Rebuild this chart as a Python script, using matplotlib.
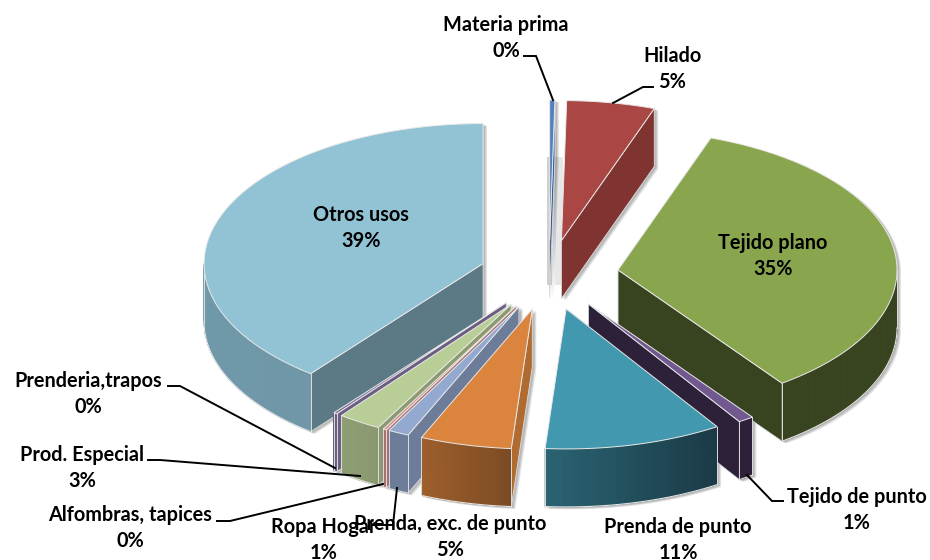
import numpy as np
import matplotlib
matplotlib.use('Agg')
import matplotlib.pyplot as plt
from matplotlib.colors import to_rgb
from matplotlib.patches import Polygon

# categories in clockwise order, starting at 12 o'clock
categorias = ['Materia prima', 'Hilado', 'Tejido plano', 'Tejido de punto', 'Prenda de punto',
              'Prenda, exc. de punto', 'Ropa Hogar', 'Alfombras, tapices', 'Prod. Especial',
              'Prenderia,trapos', 'Otros usos']
valores = [0.3, 5.1, 34.6, 0.9, 10.3, 5.3, 1.2, 0.2, 2.5, 0.2, 39.4]
etiquetas = ['0%', '5%', '35%', '1%', '11%', '5%', '1%', '0%', '3%', '0%', '39%']

# styles
color_top = ['#4F81BD', '#AA4643', '#89A54E', '#71588F', '#4198AF', '#DB843D',
             '#93A9CF', '#D19392', '#B9CD96', '#7F7296', '#92C3D5']
color_cut = ['#3A6090', '#7F3431', '#38431F', '#2C2139', '#1A3A46', '#B06C30',
             '#6C7C99', '#A87270', '#8C9A70', '#6A5F80', '#5B7A85']
side_left = ['#3A6090', '#7F3431', '#38431F', '#2C2139', '#2A6373', '#9E5F2B',
             '#6C7C99', '#A87270', '#8E9E72', '#6A5F80', '#6F98A8']
side_right = ['#3A6090', '#7F3431', '#38431F', '#2C2139', '#1A3A46', '#7B4A22',
              '#6C7C99', '#A87270', '#8A9870', '#6A5F80', '#7097A7']
orden = [0, 1, 10, 2, 3, 9, 8, 7, 6, 5, 4]  # back to front

# (x, y) centre of each label
pos_label = [(506, 38), (672, 69), (773, 256), (857, 510), (678, 540), (450, 537),
             (324, 540), (130, 528), (82, 468), (88, 394), (361, 228)]
# leader lines
lideres = [[(524, 56), (536, 56), (553, 100)],
           [(653, 87), (643, 87), (613, 103)],
           [(747, 475), (772, 501), (783, 501)],
           [(168, 386), (180, 386), (335, 468)],
           [(148, 460), (160, 460), (360, 476)],
           [(217, 521), (230, 521), (383, 484)],
           [(397, 488), (393, 525), (373, 525)]]

cx, cy = 549, 275
rx, ry = 279, 140
prof = 58
expl = 0.25


def punto(x0, y0, t):
    return x0 + rx * np.sin(np.radians(t)), y0 - ry * np.cos(np.radians(t))


def hull(pts):
    pts = sorted(set(pts))
    def cruz(o, a, b):
        return (a[0]-o[0])*(b[1]-o[1]) - (a[1]-o[1])*(b[0]-o[0])
    low, up = [], []
    for p in pts:
        while len(low) > 1 and cruz(low[-2], low[-1], p) <= 0:
            low.pop()
        low.append(p)
    for p in pts[::-1]:
        while len(up) > 1 and cruz(up[-2], up[-1], p) <= 0:
            up.pop()
        up.append(p)
    return low[:-1] + up[:-1]


fig = plt.figure(figsize=(9.3, 5.6), dpi=100)
ax = fig.add_axes([0, 0, 1, 1])
ax.set_xlim(0, 930)
ax.set_ylim(560, 0)
ax.axis('off')

bordes = np.concatenate([[0], np.cumsum(valores)]) / sum(valores) * 360

# grey shadow bands beside the thin first slice
ax.fill_between([547, 552], 157, 285, color='#BBBBBB', alpha=0.7, lw=0, zorder=1)
ax.fill_between([555, 563], 157, 285, color='#DDDDDD', alpha=0.7, lw=0, zorder=1)

for i in orden:
    t0, t1 = bordes[i], bordes[i + 1]
    mid = (t0 + t1) / 2
    ax0, ay0 = punto(cx, cy, mid)
    ax0 = cx + (ax0 - cx) * expl
    ay0 = cy + (ay0 - cy) * expl

    ts = np.linspace(t0, t1, 60)
    arco = [punto(ax0, ay0, t) for t in ts]
    top = [(ax0, ay0)] + arco

    # soft shadow
    sil = hull([(float(x), float(y)) for x, y in top] + [(float(x), float(y + prof)) for x, y in top])
    for d in (4, 3, 2):
        ax.add_patch(Polygon([(x + d, y + d * 0.6) for x, y in sil], closed=True,
                             facecolor='#000000', alpha=0.10, edgecolor='none', zorder=1))

    # cut faces
    if np.sin(np.radians(t0)) < 0:
        p = arco[0]
        ax.add_patch(Polygon([(ax0, ay0), p, (p[0], p[1] + prof), (ax0, ay0 + prof)], closed=True,
                             facecolor=color_cut[i], edgecolor='#DDDDDD', lw=0.6, zorder=2))
    if np.sin(np.radians(t1)) > 0:
        p = arco[-1]
        ax.add_patch(Polygon([(ax0, ay0), p, (p[0], p[1] + prof), (ax0, ay0 + prof)], closed=True,
                             facecolor=color_cut[i], edgecolor='#DDDDDD', lw=0.6, zorder=2))

    # outer side, only the front half, shaded from left to right
    a0, a1 = max(t0, 90), min(t1, 270)
    if a1 > a0:
        tt = np.linspace(a0, a1, 70)
        xs = [punto(ax0, ay0, t)[0] for t in tt]
        x_min, x_max = min(xs), max(xs)
        c_l, c_r = np.array(to_rgb(side_left[i])), np.array(to_rgb(side_right[i]))
        for k in range(len(tt) - 1):
            p, q = punto(ax0, ay0, tt[k]), punto(ax0, ay0, tt[k + 1])
            f = ((p[0] + q[0]) / 2 - x_min) / max(x_max - x_min, 1)
            col = c_l + (c_r - c_l) * f
            ax.add_patch(Polygon([p, q, (q[0], q[1] + prof), (p[0], p[1] + prof)], closed=True,
                                 facecolor=col, edgecolor=col, lw=0.6, zorder=2))
        # light edge of the side
        e = [punto(ax0, ay0, t) for t in tt]
        ax.plot([x for x, y in e], [y + prof for x, y in e], color='#E4E4E4', lw=0.8, zorder=2)
        for t in (a0, a1):
            p = punto(ax0, ay0, t)
            ax.plot([p[0], p[0]], [p[1], p[1] + prof], color='#DDDDDD', lw=0.7, zorder=2)

    ax.add_patch(Polygon(top, closed=True, facecolor=color_top[i], edgecolor='#E8E8E8', lw=0.7, zorder=2))

for l in lideres:
    ax.plot([p[0] for p in l], [p[1] for p in l], color='black', lw=1.4, zorder=3,
            solid_joinstyle='miter')

for i in range(len(categorias)):
    ax.text(pos_label[i][0], pos_label[i][1], categorias[i] + '\n' + etiquetas[i],
            ha='center', va='center', fontsize=14.3, fontweight='bold', family='Lato',
            linespacing=1.36, color='black', zorder=4)

fig.savefig('out.png', dpi=100, facecolor='white')
